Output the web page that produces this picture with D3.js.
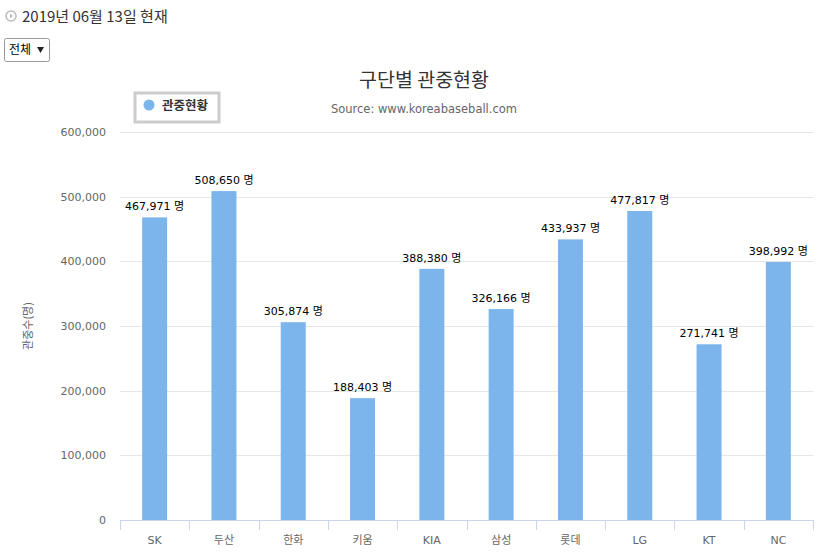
<!DOCTYPE html>
<html>
<head>
<meta charset="utf-8">
<script src="https://cdn.jsdelivr.net/npm/d3@7"></script>
<style>
  body { margin: 0; background: #fff; font-family: "DejaVu Sans", "Noto Sans CJK KR", sans-serif; }
  svg { display: block; }
</style>
</head>
<body>
<svg id="chart" width="824" height="558"></svg>
<script>
// data
var teams = ["SK", "두산", "한화", "키움", "KIA", "삼성", "롯데", "LG", "KT", "NC"];
var attendance = [467971, 508650, 305874, 188403, 388380, 326166, 433937, 477817, 271741, 398992];
var yTicks = [0, 100000, 200000, 300000, 400000, 500000, 600000];

var svg = d3.select("#chart");
var kr = "'Noto Sans CJK KR', 'DejaVu Sans', sans-serif";
var latinKr = "'DejaVu Sans', 'Noto Sans CJK KR', sans-serif";
var fmt = d3.format(",");

// header
svg.append("circle").attr("cx", 11).attr("cy", 16).attr("r", 5)
  .attr("fill", "none").attr("stroke", "#bbb").attr("stroke-width", 1.5);
svg.append("path").attr("d", "M10,13.5 L13,16 L10,18.5 Z").attr("fill", "#bbb");
svg.append("text").attr("x", 22).attr("y", 22)
  .attr("font-size", 15).attr("fill", "#333").attr("font-family", kr)
  .text("2019년 06월 13일 현재");

// select box
svg.append("rect").attr("x", 4.5).attr("y", 38.5).attr("width", 45).attr("height", 23)
  .attr("rx", 2).attr("fill", "#fff").attr("stroke", "#999");
svg.append("text").attr("x", 9).attr("y", 54)
  .attr("font-size", 12).attr("fill", "#000").attr("font-family", kr).text("전체");
svg.append("path").attr("d", "M37,47 L44,47 L40.5,53 Z").attr("fill", "#222");

// scales
var x = d3.scaleBand().domain(teams).range([120, 813]).paddingInner(0).paddingOuter(0);
var y = d3.scaleLinear().domain([0, 600000]).range([520, 132]);
var barW = 25;

// grid lines
svg.append("g").selectAll("line").data(yTicks.slice(1)).join("line")
  .attr("x1", 120).attr("x2", 813)
  .attr("y1", function(d) { return Math.round(y(d)) + 0.5; })
  .attr("y2", function(d) { return Math.round(y(d)) + 0.5; })
  .attr("stroke", "#e6e6e6");

// y axis labels
var yAxis = d3.axisLeft(y).tickValues(yTicks).tickSize(0).tickPadding(0).tickFormat(fmt);
var yg = svg.append("g").attr("transform", "translate(106,0)").call(yAxis);
yg.select(".domain").remove();
yg.selectAll("text").attr("font-size", 11).attr("fill", "#666")
  .attr("font-family", "'DejaVu Sans', sans-serif");

// y axis title
svg.append("text")
  .attr("transform", "translate(32,326) rotate(-90)")
  .attr("text-anchor", "middle").attr("font-size", 11).attr("fill", "#666")
  .attr("font-family", kr).text("관중수(명)");

// bars
svg.append("g").selectAll("rect").data(attendance).join("rect")
  .attr("x", function(d, i) { return x(teams[i]) + x.bandwidth() / 2 - barW / 2; })
  .attr("y", function(d) { return y(d); })
  .attr("width", barW)
  .attr("height", function(d) { return y(0) - y(d); })
  .attr("fill", "#7cb5ec");

// data labels
svg.append("g").selectAll("text").data(attendance).join("text")
  .attr("x", function(d, i) { return x(teams[i]) + x.bandwidth() / 2; })
  .attr("y", function(d) { return y(d) - 7; })
  .attr("text-anchor", "middle").attr("font-size", 11).attr("fill", "#000")
  .attr("font-family", latinKr)
  .text(function(d) { return fmt(d) + " 명"; });

// x axis
var xAxis = d3.axisBottom(x).tickSize(0).tickPadding(16);
var xg = svg.append("g").attr("transform", "translate(0,520)").call(xAxis);
xg.select(".domain").remove();
xg.selectAll("text").attr("font-size", 11).attr("fill", "#666").attr("font-family", latinKr);
svg.append("line").attr("x1", 120).attr("x2", 813).attr("y1", 520.5).attr("y2", 520.5)
  .attr("stroke", "#ccd6eb");
svg.append("g").selectAll("line").data(d3.range(teams.length + 1)).join("line")
  .attr("x1", function(i) { return Math.round(120 + i * x.bandwidth()) + 0.5; })
  .attr("x2", function(i) { return Math.round(120 + i * x.bandwidth()) + 0.5; })
  .attr("y1", 520).attr("y2", 530)
  .attr("stroke", "#ccd6eb");

// title
svg.append("text").attr("x", 424).attr("y", 87).attr("text-anchor", "middle")
  .attr("font-size", 19.5).attr("fill", "#333").attr("font-family", kr).text("구단별 관중현황");
svg.append("text").attr("x", 424).attr("y", 113).attr("text-anchor", "middle")
  .attr("font-size", 11.5).attr("fill", "#666").attr("font-family", "'DejaVu Sans', sans-serif")
  .text("Source: www.koreabaseball.com");

// legend
svg.append("rect").attr("x", 135).attr("y", 93).attr("width", 84).attr("height", 29)
  .attr("fill", "#fff").attr("stroke", "#ccc").attr("stroke-width", 3);
svg.append("circle").attr("cx", 149).attr("cy", 105).attr("r", 5.5).attr("fill", "#7cb5ec");
svg.append("text").attr("x", 162).attr("y", 110).attr("font-size", 12.5).attr("font-weight", "bold")
  .attr("fill", "#333").attr("font-family", kr).text("관중현황");
</script>
</body>
</html>
